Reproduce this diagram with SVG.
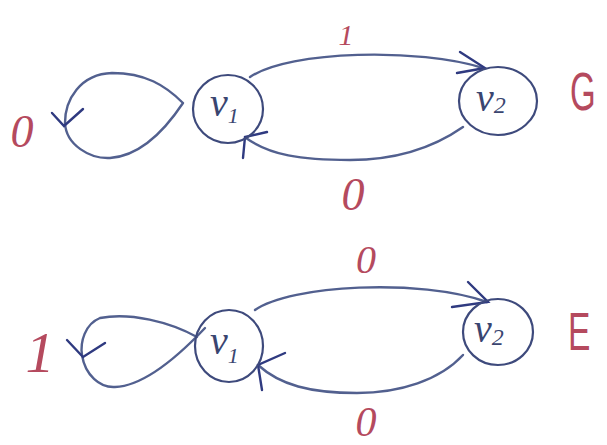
<svg xmlns="http://www.w3.org/2000/svg" width="607" height="445" viewBox="0 0 607 445">
<style>
.node{fill:none;stroke:#3e4a7c;stroke-width:2.2}
.edge{fill:none;stroke:#52608f;stroke-width:2.4;stroke-linecap:round}
.head{fill:none;stroke:#2f3a80;stroke-width:2.4;stroke-linecap:round}
.vl{font-family:"Liberation Serif",serif;font-style:italic;fill:#3a4570}
.lab{font-family:"Liberation Serif",serif;font-style:italic;fill:#b54a5e}
.big{font-family:"Liberation Sans",sans-serif;fill:#b54a5e}
</style>
<rect width="607" height="445" fill="#ffffff"/>
<g id="connectors">
  <!-- top graph G -->
  <path class="edge" d="M250,77 C 290,50 420,48 483,68"/>
  <path class="head" d="M460,52 L485,68 L457,73"/>
  <path class="edge" d="M463,127 C 430,150 390,160 350,160 C 300,160 270,155 246,138"/>
  <path class="head" d="M267,132 L245,137 L243,158"/>
  <path class="edge" d="M183,103 C 165,85 145,73 112,73 C 80,74 65,100 65,123 C 66,145 90,159 110,158 C 140,156 165,130 183,103"/>
  <path class="head" d="M52,113 L64,126 L83,109"/>
  <!-- bottom graph E -->
  <path class="edge" d="M255,310 C 290,285 420,278 487,302"/>
  <path class="head" d="M468,282 L488,302 L452,307"/>
  <path class="edge" d="M463,355 C 440,380 400,393 357,393 C 310,393 280,385 258,365"/>
  <path class="head" d="M285,353 L258,365 L262,390"/>
  <path class="edge" d="M197,337 C 170,322 130,312 100,318 C 85,324 80,342 82,355 C 85,375 100,388 115,387 C 140,386 170,365 205,328"/>
  <path class="head" d="M67,340 L83,357 L105,343"/>
</g>
<g id="G-v1">
  <ellipse class="node" cx="228" cy="109" rx="35" ry="34"/>
  <text class="vl" x="210" y="116" font-size="40">v<tspan font-size="22" dy="7">1</tspan></text>
</g>
<g id="G-v2">
  <ellipse class="node" cx="498" cy="101" rx="39" ry="34"/>
  <text class="vl" x="476" y="111" font-size="40">v<tspan font-size="24" dy="2">2</tspan></text>
</g>
<g id="E-v1">
  <ellipse class="node" cx="229" cy="346" rx="34" ry="36"/>
  <text class="vl" x="210" y="354" font-size="40">v<tspan font-size="22" dy="9">1</tspan></text>
</g>
<g id="E-v2">
  <ellipse class="node" cx="498" cy="332" rx="35" ry="33"/>
  <text class="vl" x="474" y="342" font-size="40">v<tspan font-size="24" dy="3">2</tspan></text>
</g>
<g id="labels">
  <text class="lab" x="346" y="45" font-size="30" text-anchor="middle">1</text>
  <text class="lab" x="22" y="147" font-size="46" text-anchor="middle">0</text>
  <text class="lab" x="353" y="210" font-size="46" text-anchor="middle">0</text>
  <text class="big" transform="translate(570,110) scale(0.75,1.2)" font-size="44">G</text>
  <text class="lab" x="366" y="273" font-size="40" text-anchor="middle">0</text>
  <text class="lab" x="366" y="436" font-size="42" text-anchor="middle">0</text>
  <text class="lab" x="40" y="372" font-size="58" text-anchor="middle">1</text>
  <text class="big" transform="translate(568,350) scale(0.7,1.1)" font-size="48">E</text>
</g>
</svg>
